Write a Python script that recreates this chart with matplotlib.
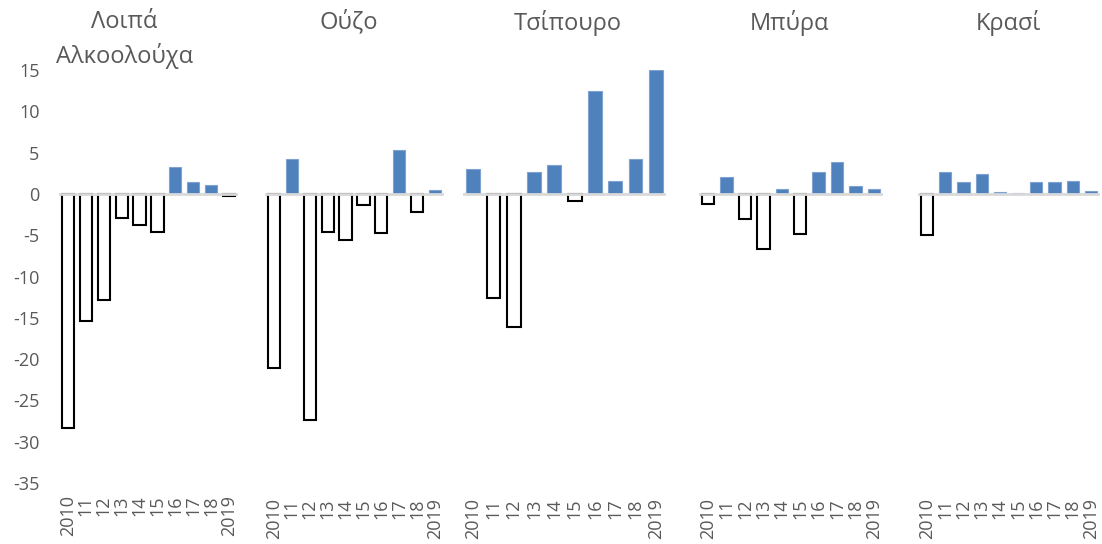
import matplotlib.pyplot as plt
import numpy as np

plt.rcParams['font.family'] = ['Open Sans', 'DejaVu Sans']

years = ['2010', '11', '12', '13', '14', '15', '16', '17', '18', '2019']
titles = ['Λοιπά\nΑλκοολούχα', 'Ούζο', 'Τσίπουρο', 'Μπύρα', 'Κρασί']

other_spirits = [-28.3, -15.4, -12.8, -2.9, -3.8, -4.6, 3.3, 1.5, 1.1, -0.2]
ouzo = [-21.1, 4.2, -27.4, -4.6, -5.6, -1.3, -4.7, 5.3, -2.2, 0.5]
tsipouro = [3.0, -12.6, -16.1, 2.7, 3.5, -0.9, 12.5, 1.6, 4.2, 15.0]
beer = [-1.2, 2.1, -3.0, -6.7, 0.6, -4.8, 2.6, 3.9, 1.0, 0.6]
wine = [-5.0, 2.6, 1.5, 2.4, 0.2, 0.05, 1.5, 1.5, 1.6, 0.4]
series = [other_spirits, ouzo, tsipouro, beer, wine]

W, H = 1102, 544
fig = plt.figure(figsize=(W / 100, H / 100), dpi=100)

# axes spans in pixels (left, right)
spans = [(59, 238), (265, 444), (463, 666), (699, 883), (918, 1100)]
title_x = [124, 349, 568, 789, 1008]
pads = [9, 11, 11, 11, 11]
y_top, y_bot = 70, 483

blue = '#4F81BD'
grey = '#595959'

for i, (vals, (l, r)) in enumerate(zip(series, spans)):
    ax = fig.add_axes([l / W, 1 - y_bot / H, (r - l) / W, (y_bot - y_top) / H])
    vals = np.array(vals)
    x = np.arange(len(vals))
    pos = vals >= 0
    ax.bar(x[pos], vals[pos], width=0.68, color=blue, edgecolor='#7FA3D1', linewidth=0.8, zorder=2)
    ax.bar(x[~pos], vals[~pos], width=0.68, color='white', edgecolor='black', linewidth=1.5, zorder=2)
    ax.axhline(0, color='#D9D9D9', linewidth=2, zorder=3)
    ax.set_xlim(-0.5, 9.5)
    ax.set_ylim(-35, 15)
    ax.set_xticks(x)
    ax.set_xticklabels(years, rotation=90, fontsize=13, color=grey)
    ax.set_yticks(np.arange(-35, 16, 5))
    if i == 0:
        ax.set_yticklabels([str(v) for v in range(-35, 16, 5)], fontsize=13, color=grey)
        ax.tick_params(axis='y', length=0, pad=14)
    else:
        ax.tick_params(axis='y', left=False, labelleft=False)
    ax.tick_params(axis='x', length=0, pad=pads[i])
    for s in ax.spines.values():
        s.set_visible(False)
    fig.text(title_x[i] / W, 1 - 10 / H, titles[i], ha='center', va='top',
             fontsize=17, color=grey, linespacing=1.45)

fig.savefig('out.png', dpi=100, facecolor='white')
